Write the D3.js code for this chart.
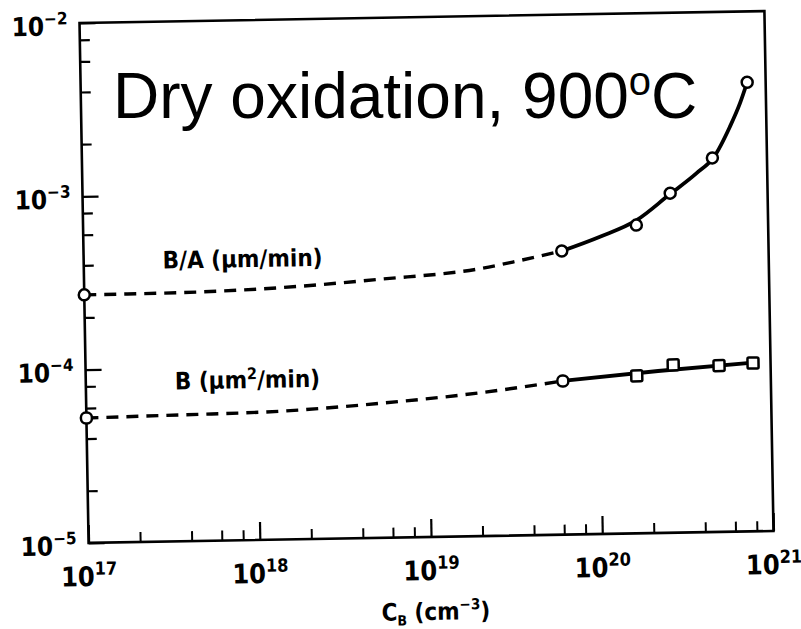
<!DOCTYPE html>
<html>
<head>
<meta charset="utf-8">
<script src="https://cdn.jsdelivr.net/npm/d3@7"></script>
<style>
  body { margin: 0; background: #fff; }
  svg { display: block; }
  .lab { font-family: 'Liberation Sans Narrow', 'DejaVu Sans Condensed', 'Arial Narrow', sans-serif; font-weight: bold; fill: #000; }
</style>
</head>
<body>
<svg id="chart" width="801" height="629"></svg>
<script>
// measured points, B/A (circles)
const baConc = [1e17, 6.2e19, 1.7e20, 2.7e20, 4.8e20, 7.8e20];
const baRate = [2.7e-4, 4.33e-4, 6.0e-4, 9.1e-4, 1.44e-3, 3.9e-3];
// measured points, B (squares)
const bConc = [1e17, 6.1e19, 1.65e20, 2.7e20, 5.0e20, 7.9e20];
const bRate = [5.26e-5, 7.7e-5, 8.1e-5, 9.3e-5, 9.1e-5, 9.35e-5];

// dashed (extrapolated) parts of the curves
const baDashConc = [1e17, 3.6e17, 1.4e18, 5.3e18, 2.1e19, 3.2e19, 6.2e19];
const baDashRate = [2.7e-4, 2.72e-4, 2.84e-4, 3.1e-4, 3.5e-4, 3.78e-4, 4.33e-4];
const bDashConc = [1e17, 3.5e17, 1.35e18, 5.2e18, 2.0e19, 6.1e19];
const bDashRate = [5.26e-5, 5.36e-5, 5.5e-5, 5.97e-5, 6.71e-5, 7.7e-5];

// solid fitted parts
const baFitConc = [6.2e19, 1.04e20, 1.71e20, 2.66e20, 3.87e20, 4.91e20, 6.12e20, 7.05e20, 7.8e20];
const baFitRate = [4.33e-4, 5.19e-4, 6.41e-4, 8.9e-4, 1.18e-3, 1.46e-3, 2.17e-3, 2.96e-3, 3.9e-3];
const bFitConc = [6.1e19, 2.2e20, 7.9e20];
const bFitRate = [7.7e-5, 8.6e-5, 9.4e-5];

// axis ticks
const xDecades = [17, 18, 19, 20, 21];
const yDecades = [-5, -4, -3, -2];
const minorMult = [2, 4, 6, 8];

const svg = d3.select('#chart');
const pLeft = 84, pRight = 769, pTop = 17, pBottom = 537;

const x = d3.scaleLog().domain([1e17, 1e21]).range([pLeft, pRight]);
const y = d3.scaleLog().domain([1e-5, 1e-2]).range([pBottom, pTop]);

// the scanned figure sits about a degree off square
const cx = (pLeft + pRight) / 2, cy = (pTop + pBottom) / 2;
const plot = svg.append('g').attr('transform', `rotate(-1,${cx},${cy})`);

const zip = (a, b) => a.map((v, i) => [v, b[i]]);

function minors(decades) {
  const out = [];
  decades.slice(0, -1).forEach(e => minorMult.forEach(m => out.push(m * Math.pow(10, e))));
  return out;
}

// frame
plot.append('rect')
  .attr('x', pLeft).attr('y', pTop)
  .attr('width', pRight - pLeft).attr('height', pBottom - pTop)
  .attr('fill', 'none').attr('stroke', '#000').attr('stroke-width', 2.6);

// x ticks (inward)
plot.append('g')
  .attr('transform', `translate(0,${pBottom})`)
  .call(d3.axisBottom(x).tickValues(minors(xDecades)).tickSize(-10).tickFormat(''))
  .call(g => g.select('.domain').remove())
  .selectAll('line').attr('stroke-width', 2);
plot.append('g')
  .attr('transform', `translate(0,${pBottom})`)
  .call(d3.axisBottom(x).tickValues(xDecades.map(e => Math.pow(10, e))).tickSize(-18).tickFormat(''))
  .call(g => g.select('.domain').remove())
  .selectAll('line').attr('stroke-width', 2.2);

// y ticks (inward)
plot.append('g')
  .attr('transform', `translate(${pLeft},0)`)
  .call(d3.axisLeft(y).tickValues(minors(yDecades)).tickSize(-10).tickFormat(''))
  .call(g => g.select('.domain').remove())
  .selectAll('line').attr('stroke-width', 2.2);
plot.append('g')
  .attr('transform', `translate(${pLeft},0)`)
  .call(d3.axisLeft(y).tickValues(yDecades.map(e => Math.pow(10, e))).tickSize(-16).tickFormat(''))
  .call(g => g.select('.domain').remove())
  .selectAll('line').attr('stroke-width', 2.2);

// tick labels
plot.selectAll('text.xlab')
  .data(xDecades)
  .join('text')
  .attr('class', 'xlab lab')
  .attr('x', e => x(Math.pow(10, e)))
  .attr('y', pBottom + 43)
  .attr('text-anchor', 'middle')
  .attr('font-size', 27)
  .call(t => {
    t.append('tspan').text('10');
    t.append('tspan').attr('dy', -11).attr('font-size', 18).text(e => e);
  });

plot.selectAll('text.ylab')
  .data(yDecades)
  .join('text')
  .attr('class', 'ylab lab')
  .attr('x', pLeft - 12)
  .attr('y', e => y(Math.pow(10, e)) + 12)
  .attr('text-anchor', 'end')
  .attr('font-size', 26)
  .call(t => {
    t.append('tspan').text('10');
    t.append('tspan').attr('dy', -11).attr('font-size', 17).text(e => '\u2212' + Math.abs(e));
  });

// axis title
const xt = plot.append('text')
  .attr('class', 'lab')
  .attr('x', 430).attr('y', 620)
  .attr('text-anchor', 'middle')
  .attr('font-size', 24);
xt.append('tspan').text('C');
xt.append('tspan').attr('dy', 5).attr('font-size', 14).text('B');
xt.append('tspan').attr('dy', -5).text(' (cm');
xt.append('tspan').attr('dy', -10).attr('font-size', 15).text('\u22123');
xt.append('tspan').attr('dy', 10).text(')');

// curve labels
plot.append('text')
  .attr('class', 'lab')
  .attr('x', 163).attr('y', 264)
  .attr('font-size', 24)
  .text('B/A (\u03bcm/min)');
const bl = plot.append('text')
  .attr('class', 'lab')
  .attr('x', 173).attr('y', 385)
  .attr('font-size', 24);
bl.append('tspan').text('B (\u03bcm');
bl.append('tspan').attr('dy', -9).attr('font-size', 16).text('2');
bl.append('tspan').attr('dy', 9).text('/min)');

// curves
const line = d3.line()
  .x(d => x(d[0]))
  .y(d => y(d[1]))
  .curve(d3.curveMonotoneX);

const curves = [
  { pts: zip(baDashConc, baDashRate), dash: '12,8', w: 3.4 },
  { pts: zip(bDashConc, bDashRate), dash: '12,8', w: 3.4 },
  { pts: zip(baFitConc, baFitRate), dash: null, w: 3.8 },
  { pts: zip(bFitConc, bFitRate), dash: null, w: 3.8 }
];
plot.selectAll('path.curve')
  .data(curves)
  .join('path')
  .attr('class', 'curve')
  .attr('d', d => line(d.pts))
  .attr('fill', 'none')
  .attr('stroke', '#000')
  .attr('stroke-width', d => d.w)
  .attr('stroke-dasharray', d => d.dash);

// markers
plot.selectAll('circle.ba')
  .data(zip(baConc, baRate))
  .join('circle')
  .attr('class', 'ba')
  .attr('cx', d => x(d[0]))
  .attr('cy', d => y(d[1]))
  .attr('r', 5.5)
  .attr('fill', '#fff')
  .attr('stroke', '#000')
  .attr('stroke-width', 2.5);

plot.selectAll('rect.b')
  .data(zip(bConc, bRate))
  .join('rect')
  .attr('class', 'b')
  .attr('x', d => x(d[0]) - 5.5)
  .attr('y', d => y(d[1]) - 5.5)
  .attr('width', 11).attr('height', 11)
  .attr('rx', (d, i) => i < 2 ? 5 : 1.5)
  .attr('fill', '#fff')
  .attr('stroke', '#000')
  .attr('stroke-width', 2.5);

// overlay title
const title = svg.append('text')
  .attr('x', 113).attr('y', 118)
  .attr('font-family', "'Liberation Sans', Arial, sans-serif")
  .attr('font-size', 64)
  .attr('fill', '#000');
title.append('tspan').text('Dry oxidation, 900');
title.append('tspan').attr('dy', -23).attr('font-size', 40).text('o');
title.append('tspan').attr('dy', 23).text('C');
</script>
</body>
</html>
